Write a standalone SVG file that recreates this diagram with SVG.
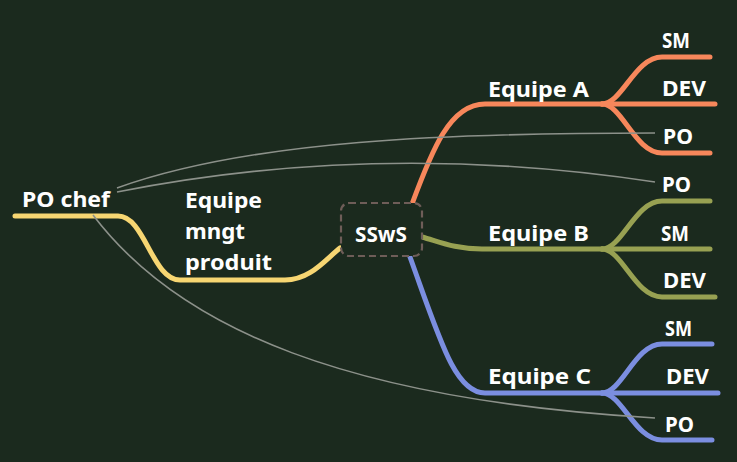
<svg xmlns="http://www.w3.org/2000/svg" width="737" height="462" viewBox="0 0 737 462">
<style>
.t{font-family:"Noto Sans","DejaVu Sans",sans-serif;font-weight:bold;font-size:21px;fill:#ffffff}
.br{fill:none;stroke-width:5;stroke-linecap:round;stroke-linejoin:round}
.a{stroke:#f7875b}.b{stroke:#98a152}.c{stroke:#7b8ee0}.y{stroke:#f7d672}
.rel{fill:none;stroke:#8c918a;stroke-width:1.6}
</style>
<rect width="737" height="462" fill="#1b2a1e"/>
<g id="connectors">
<path class="br y" d="M15,216 L118,216 C145,216 152,280 180,280 L285,280 C310,280 325,260 340,248"/>
<path class="br a" d="M412,204 C432,150 450,104 485,104 L602,104"/>
<path class="br a" d="M602,104 C622,104 635,57 662,57 L710,57"/>
<path class="br a" d="M602,104 L715,104"/>
<path class="br a" d="M602,104 C622,104 635,153 662,153 L710,153"/>
<path class="br b" d="M422,237 C440,242 455,249 482,249 L602,249"/>
<path class="br b" d="M602,249 C622,249 635,201 662,201 L710,201"/>
<path class="br b" d="M602,249 L710,249"/>
<path class="br b" d="M602,249 C622,249 635,297 662,297 L715,297"/>
<path class="br c" d="M410,257 C440,340 455,393 485,393 L602,393"/>
<path class="br c" d="M602,393 C622,393 635,344 662,344 L712,344"/>
<path class="br c" d="M602,393 L718,393"/>
<path class="br c" d="M602,393 C622,393 635,440 662,440 L712,440"/>
<path class="rel" d="M117,188 C250,140 450,133 655,133"/>
<path class="rel" d="M117,192 Q380,140 655,182"/>
<path class="rel" d="M93,215 C180,330 350,400 655,418"/>
</g>
<g id="central">
<rect x="341" y="203" width="81" height="53" rx="8" fill="#1b2a1e" stroke="#6e5d58" stroke-width="2.2" stroke-dasharray="7,4"/>
<text class="t" x="355" y="242" textLength="52" lengthAdjust="spacingAndGlyphs">SSwS</text>
</g>
<g id="po-chef"><text class="t" x="22" y="207" textLength="88" lengthAdjust="spacingAndGlyphs">PO chef</text></g>
<g id="equipe-mngt">
<text class="t" x="185" y="208" textLength="77" lengthAdjust="spacingAndGlyphs">Equipe</text>
<text class="t" x="185" y="239" textLength="60" lengthAdjust="spacingAndGlyphs">mngt</text>
<text class="t" x="185" y="270" textLength="87" lengthAdjust="spacingAndGlyphs">produit</text>
</g>
<g id="equipe-a"><text class="t" x="488" y="97" textLength="101" lengthAdjust="spacingAndGlyphs">Equipe A</text></g>
<g id="a-sm"><text class="t" x="662" y="48" textLength="28" lengthAdjust="spacingAndGlyphs">SM</text></g>
<g id="a-dev"><text class="t" x="662" y="96" textLength="44" lengthAdjust="spacingAndGlyphs">DEV</text></g>
<g id="a-po"><text class="t" x="663" y="144" textLength="30" lengthAdjust="spacingAndGlyphs">PO</text></g>
<g id="equipe-b"><text class="t" x="488" y="241" textLength="101" lengthAdjust="spacingAndGlyphs">Equipe B</text></g>
<g id="b-po"><text class="t" x="662" y="192" textLength="29" lengthAdjust="spacingAndGlyphs">PO</text></g>
<g id="b-sm"><text class="t" x="661" y="241" textLength="28" lengthAdjust="spacingAndGlyphs">SM</text></g>
<g id="b-dev"><text class="t" x="663" y="288" textLength="43" lengthAdjust="spacingAndGlyphs">DEV</text></g>
<g id="equipe-c"><text class="t" x="488" y="384" textLength="103" lengthAdjust="spacingAndGlyphs">Equipe C</text></g>
<g id="c-sm"><text class="t" x="665" y="336" textLength="27" lengthAdjust="spacingAndGlyphs">SM</text></g>
<g id="c-dev"><text class="t" x="666" y="384" textLength="43" lengthAdjust="spacingAndGlyphs">DEV</text></g>
<g id="c-po"><text class="t" x="665" y="432" textLength="29" lengthAdjust="spacingAndGlyphs">PO</text></g>
</svg>
